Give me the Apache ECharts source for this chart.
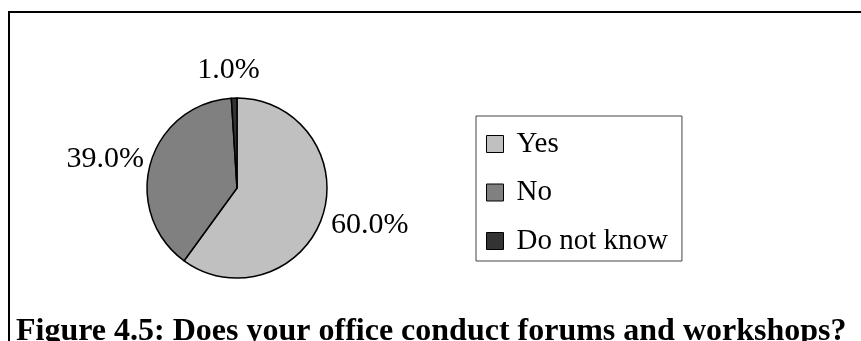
<!DOCTYPE html>
<html>
<head>
<meta charset="utf-8">
<script src="https://cdn.jsdelivr.net/npm/echarts@6/dist/echarts.min.js"></script>
<style>
html,body{margin:0;padding:0;background:#fff;}
#chart{width:861px;height:341px;}
</style>
</head>
<body>
<div id="chart"></div>
<script>
const categories = ["Yes", "No", "Do not know"];
const values = [60.0, 39.0, 1.0];
const captionText = "Figure 4.5: Does your office conduct forums and workshops?";

const sliceColors = ["#C0C0C0", "#808080", "#333333"];
const labelShift = [[-1, 6], [3, -1], [26, -18]];
const serif = "'Liberation Serif', 'Times New Roman', serif";

const chart = echarts.init(document.getElementById('chart'), null, {renderer: 'canvas'});
chart.setOption({
  backgroundColor: '#ffffff',
  animation: false,
  title: {
    text: captionText,
    left: 16,
    top: 316,
    padding: 0,
    textStyle: {fontFamily: serif, fontSize: 32, fontWeight: 'bold', color: '#000'}
  },
  graphic: [{
    type: 'rect',
    silent: true,
    shape: {x: 9, y: 12, width: 900, height: 400},
    style: {fill: 'none', stroke: '#000', lineWidth: 2}
  }],
  legend: {
    orient: 'vertical',
    left: 476,
    top: 116,
    padding: [13.5, 14, 5.5, 10],
    itemGap: 19.5,
    itemWidth: 17,
    itemHeight: 17,
    icon: 'rect',
    borderColor: '#444',
    borderWidth: 1,
    data: categories,
    itemStyle: {borderColor: '#000', borderWidth: 1},
    textStyle: {fontFamily: serif, fontSize: 29, color: '#000', lineHeight: 29, padding: [0, 0, 0, 8]}
  },
  series: [{
    type: 'pie',
    center: [237, 188],
    radius: 90,
    startAngle: 90,
    clockwise: true,
    data: categories.map((c, i) => ({name: c, value: values[i], itemStyle: {color: sliceColors[i]}})),
    itemStyle: {borderColor: '#000', borderWidth: 1.5},
    emphasis: {disabled: true},
    label: {
      show: true,
      position: 'outside',
      formatter: p => p.value.toFixed(1) + '%',
      fontFamily: serif,
      fontSize: 30,
      color: '#000',
      distanceToLabelLine: 0
    },
    labelLine: {show: false, length: 10, length2: 0},
    labelLayout: function (params) {
      const s = labelShift[params.dataIndex];
      return {dx: s[0], dy: s[1]};
    }
  }]
});
</script>
</body>
</html>
